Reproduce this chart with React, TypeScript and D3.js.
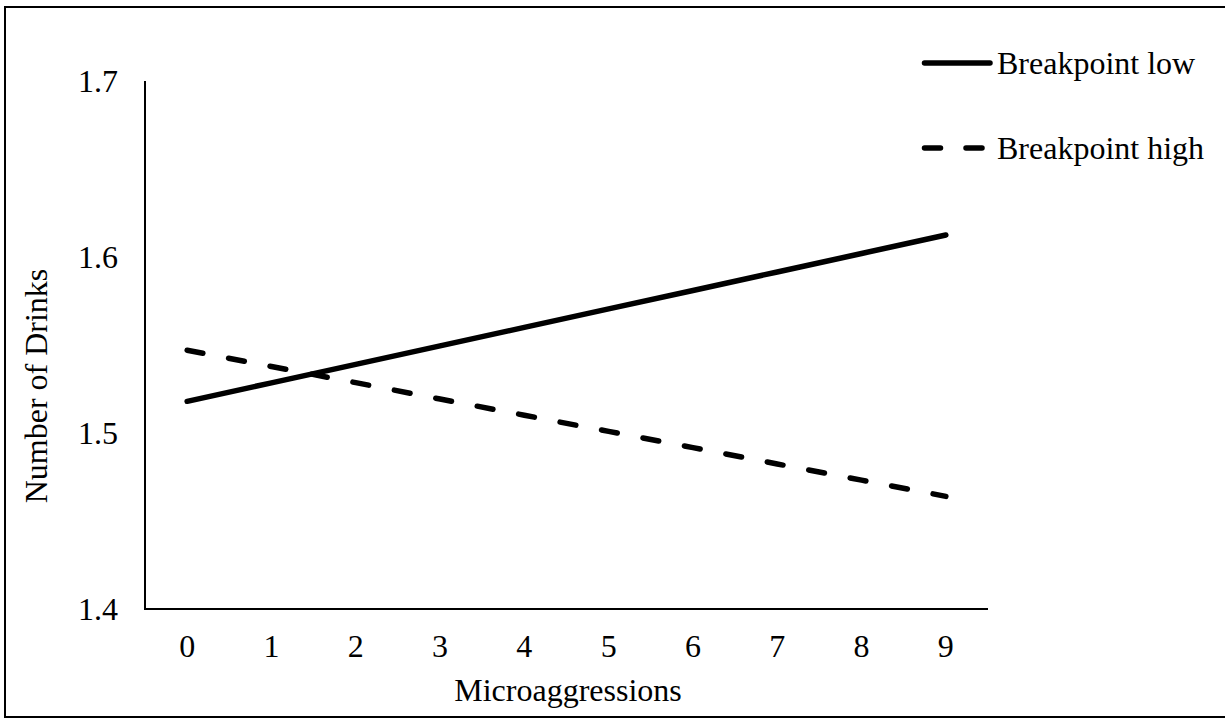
import { useEffect, useRef } from "react";
import * as d3 from "d3";

// values
const categories = ["0", "1", "2", "3", "4", "5", "6", "7", "8", "9"];
const breakpointLow = [1.518, 1.5285, 1.539, 1.5495, 1.560, 1.5705, 1.581, 1.5915, 1.602, 1.6125];
const breakpointHigh = [1.547, 1.5378, 1.5286, 1.5193, 1.5101, 1.5009, 1.4917, 1.4824, 1.4732, 1.464];
const yTicks = [1.4, 1.5, 1.6, 1.7];
const seriesNames = ["Breakpoint low", "Breakpoint high"];

const FONT = "'Liberation Serif', 'Times New Roman', serif";

const App = () => {
    const svgRef = useRef<SVGSVGElement | null>(null);

    useEffect(() => {
        const svg = d3.select(svgRef.current);
        svg.selectAll("*").remove();

        const left = 145;
        const right = 988;
        const top = 81;
        const bottom = 609;

        // outer frame
        svg
            .append("rect")
            .attr("x", 5)
            .attr("y", 7)
            .attr("width", 1222)
            .attr("height", 710)
            .attr("fill", "white")
            .attr("stroke", "black")
            .attr("stroke-width", 2);

        const x = d3.scaleBand().domain(categories).range([left, right]);
        const y = d3.scaleLinear().domain([1.4, 1.7]).range([bottom, top]);

        // axes lines
        svg
            .append("path")
            .attr("d", `M${left},${top}V${bottom}H${right}`)
            .attr("fill", "none")
            .attr("stroke", "black")
            .attr("stroke-width", 2);

        // y tick labels
        svg
            .selectAll(".ytick")
            .data(yTicks)
            .enter()
            .append("text")
            .attr("x", 118)
            .attr("y", (d) => y(d) + 11)
            .attr("text-anchor", "end")
            .style("font-family", FONT)
            .style("font-size", "32px")
            .text((d) => d.toFixed(1));

        // x tick labels
        svg
            .selectAll(".xtick")
            .data(categories)
            .enter()
            .append("text")
            .attr("x", (d) => (x(d) ?? 0) + x.bandwidth() / 2)
            .attr("y", 657)
            .attr("text-anchor", "middle")
            .style("font-family", FONT)
            .style("font-size", "32px")
            .text((d) => d);

        // axis titles
        svg
            .append("text")
            .attr("x", 568)
            .attr("y", 701)
            .attr("text-anchor", "middle")
            .style("font-family", FONT)
            .style("font-size", "32px")
            .text("Microaggressions");

        svg
            .append("text")
            .attr("transform", "translate(47,386) rotate(-90)")
            .attr("text-anchor", "middle")
            .style("font-family", FONT)
            .style("font-size", "32px")
            .text("Number of Drinks");

        const line = d3
            .line<number>()
            .x((_, i) => (x(categories[i]) ?? 0) + x.bandwidth() / 2)
            .y((d) => y(d));

        const series = [breakpointLow, breakpointHigh];
        const dashes = [null, "16,26.2"];

        series.forEach((values, i) => {
            svg
                .append("path")
                .datum(values)
                .attr("d", line)
                .attr("fill", "none")
                .attr("stroke", "black")
                .attr("stroke-width", 5.5)
                .attr("stroke-linecap", "round")
                .attr("stroke-dasharray", dashes[i]);
        });

        // legend
        const legendY = [63, 148];
        const legendEnd = [990, 982];
        seriesNames.forEach((name, i) => {
            svg
                .append("line")
                .attr("x1", 924.5)
                .attr("x2", legendEnd[i])
                .attr("y1", legendY[i])
                .attr("y2", legendY[i])
                .attr("stroke", "black")
                .attr("stroke-width", 5.5)
                .attr("stroke-linecap", "round")
                .attr("stroke-dasharray", i === 1 ? "16,25.5" : null);

            svg
                .append("text")
                .attr("x", 997)
                .attr("y", legendY[i] + 11)
                .style("font-family", FONT)
                .style("font-size", "32px")
                .text(name);
        });
    }, []);

    return (
        <svg
            ref={svgRef}
            width={1225}
            height={719}
            style={{ position: "absolute", left: 0, top: 0, display: "block", background: "white" }}
        ></svg>
    );
};

export default App;
